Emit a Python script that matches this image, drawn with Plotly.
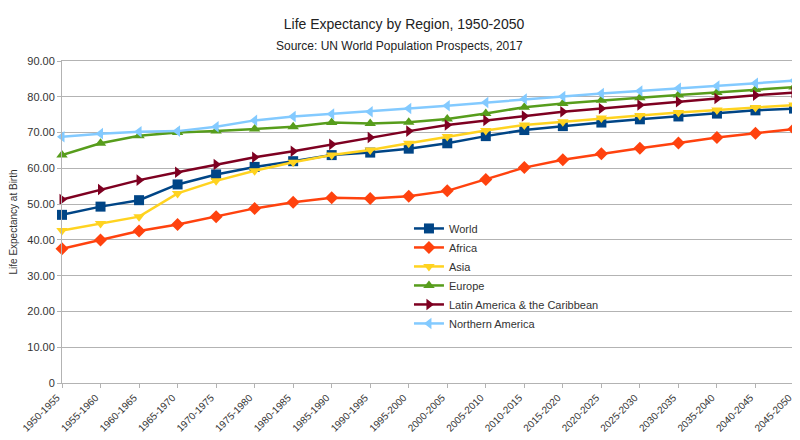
import plotly.graph_objects as go

periods = ["1950-1955", "1955-1960", "1960-1965", "1965-1970", "1970-1975",
           "1975-1980", "1980-1985", "1985-1990", "1990-1995", "1995-2000",
           "2000-2005", "2005-2010", "2010-2015", "2015-2020", "2020-2025",
           "2025-2030", "2030-2035", "2035-2040", "2040-2045", "2045-2050"]

world = [47.0, 49.3, 51.1, 55.5, 58.3, 60.4, 62.0, 63.7, 64.4, 65.5,
         67.0, 69.0, 70.7, 71.8, 72.8, 73.7, 74.5, 75.3, 76.2, 76.7]
africa = [37.5, 40.0, 42.5, 44.3, 46.5, 48.8, 50.5, 51.8, 51.6, 52.2,
          53.7, 56.9, 60.2, 62.4, 64.1, 65.6, 67.1, 68.6, 69.8, 71.0]
asia = [42.6, 44.6, 46.5, 53.0, 56.5, 59.3, 61.7, 63.7, 65.1, 67.0,
        68.9, 70.6, 72.1, 73.0, 74.1, 74.8, 75.6, 76.3, 77.0, 77.7]
europe = [63.7, 67.0, 69.1, 70.0, 70.4, 71.0, 71.6, 72.8, 72.5, 72.9,
          73.8, 75.3, 77.1, 78.1, 79.0, 79.7, 80.5, 81.2, 82.0, 82.7]
latin = [51.3, 54.1, 56.7, 58.9, 61.1, 63.1, 64.8, 66.7, 68.6, 70.4,
         72.1, 73.4, 74.6, 75.8, 76.7, 77.7, 78.6, 79.5, 80.4, 81.2]
n_america = [68.8, 69.7, 70.2, 70.4, 71.6, 73.4, 74.5, 75.2, 75.8, 76.7,
             77.5, 78.4, 79.4, 80.1, 80.9, 81.6, 82.4, 83.0, 83.8, 84.5]

y_ticks = [0, 10, 20, 30, 40, 50, 60, 70, 80, 90]
y_labels = ["0"] + ["%.2f" % v for v in y_ticks[1:]]

series = [
    ("World", world, "#004586", "square"),
    ("Africa", africa, "#ff420e", "diamond"),
    ("Asia", asia, "#ffd320", "triangle-down"),
    ("Europe", europe, "#579d1c", "triangle-up"),
    ("Latin America & the Caribbean", latin, "#7e0021", "triangle-right"),
    ("Northern America", n_america, "#83caff", "triangle-left"),
]

fig = go.Figure()
for name, vals, col, sym in series:
    fig.add_trace(go.Scatter(
        x=periods, y=vals, name=name, mode="lines+markers",
        line=dict(color=col, width=2.5),
        marker=dict(symbol=sym, size=10, color=col),
        cliponaxis=False,
    ))

# page body adds an 8px offset, so the figure is 8px smaller than the window
fig.update_layout(
    width=792, height=432,
    margin=dict(l=54, r=6, t=53, b=57, autoexpand=False),
    paper_bgcolor="white", plot_bgcolor="white",
    font=dict(family="Liberation Sans, Arial, sans-serif", color="#333333"),
    title=dict(
        text="Life Expectancy by Region, 1950-2050",
        x=0.5, xanchor="center", y=0.963, yanchor="middle",
        font=dict(size=14, color="#222222"),
    ),
    legend=dict(
        x=0.474, y=0.525, xanchor="left", yanchor="top",
        bgcolor="rgba(0,0,0,0)", font=dict(size=11),
    ),
    showlegend=True,
)
fig.add_annotation(
    text="Source: UN World Population Prospects, 2017",
    xref="paper", yref="paper", x=0.4617, y=1.047,
    xanchor="center", yanchor="middle", showarrow=False,
    font=dict(size=12, color="#222222"),
)

fig.update_xaxes(
    type="category", range=[0, len(periods) - 1],
    tickangle=-45, tickfont=dict(size=10),
    ticks="outside", ticklen=4, tickcolor="#b3b3b3",
    ticklabelshift=-5,
    showline=True, linecolor="#b3b3b3", mirror=True,
    showgrid=False, automargin=False,
)
fig.update_yaxes(
    range=[0, 90], tickvals=y_ticks, ticktext=y_labels,
    tickfont=dict(size=11),
    ticks="outside", ticklen=4, tickcolor="#b3b3b3",
    showline=True, linecolor="#b3b3b3", mirror=True,
    showgrid=True, gridcolor="#b3b3b3", gridwidth=1,
    zeroline=False, automargin=False,
    title=dict(text="Life Expectancy at Birth", font=dict(size=10), standoff=8),
)

fig.write_html("out.html")
